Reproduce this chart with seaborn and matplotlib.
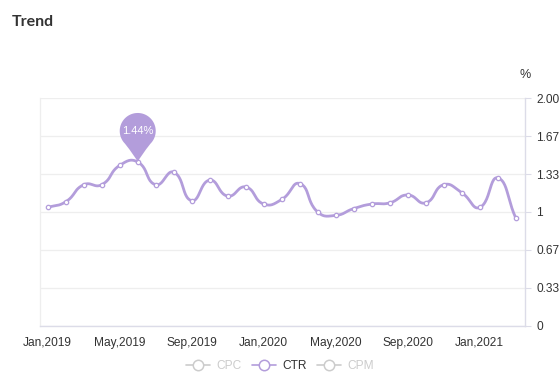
import numpy as np
import pandas as pd
import matplotlib
matplotlib.use("Agg")
import matplotlib.pyplot as plt
import matplotlib.transforms as mtransforms
from matplotlib.path import Path
from matplotlib.patches import PathPatch
from matplotlib.lines import Line2D
import seaborn as sns

# ---- data ----
months = pd.date_range("2019-01-01", periods=27, freq="MS")
ctr = [1.04, 1.09, 1.24, 1.24, 1.41, 1.44, 1.24, 1.35, 1.10, 1.28, 1.14, 1.22,
       1.07, 1.11, 1.25, 1.00, 0.97, 1.03, 1.07, 1.08, 1.15, 1.08, 1.24, 1.17,
       1.04, 1.30, 0.95]
tick_labels = ["Jan,2019", "May,2019", "Sep,2019", "Jan,2020", "May,2020", "Sep,2020", "Jan,2021"]
y_ticks = [0, 0.333, 0.667, 1.0, 1.333, 1.667, 2.0]
y_tick_labels = ["0", "0.33", "0.67", "1", "1.33", "1.67", "2.00"]
legend_names = ["CPC", "CTR", "CPM"]
peak_label = "1.44%"

LINE = "#b39ddb"
GRID = "#eeeeee"
AXIS = "#dcdce8"
TEXT = "#333333"

sns.set_theme(style="white")
plt.rcParams["font.family"] = ["Liberation Sans", "DejaVu Sans"]

df = pd.DataFrame({"idx": np.arange(len(ctr)), "CTR": ctr})

# ECharts-like smoothing (bezier, smooth=0.5) computed in pixel space
PX, PY = 18.0, 113.7
pts = np.column_stack([df["idx"].values * PX, df["CTR"].values * PY])
n = len(pts)
cp_prev = np.zeros_like(pts)
cp_next = np.zeros_like(pts)
s = 0.5
for i in range(n):
    p = pts[i]
    pr = pts[i - 1] if i > 0 else p
    nx = pts[i + 1] if i < n - 1 else p
    v = nx - pr
    d0 = np.hypot(*(p - pr))
    d1 = np.hypot(*(p - nx))
    tot = d0 + d1
    r = d1 / tot if tot > 0 else 0.5
    cp_next[i] = p + v * s * r
    cp_prev[i] = p - v * s * (1 - r)
sx, sy = [], []
t = np.linspace(0, 1, 25)
for i in range(n - 1):
    P0, P1, P2, P3 = pts[i], cp_next[i], cp_prev[i + 1], pts[i + 1]
    b = ((1 - t) ** 3)[:, None] * P0 + (3 * (1 - t) ** 2 * t)[:, None] * P1 + \
        (3 * (1 - t) * t ** 2)[:, None] * P2 + (t ** 3)[:, None] * P3
    sx.extend(b[:, 0] / PX)
    sy.extend(b[:, 1] / PY)
smooth = pd.DataFrame({"x": sx, "y": sy})

fig = plt.figure(figsize=(5.6, 3.84), dpi=100)
ax = fig.add_axes([40 / 560, 1 - 325.7 / 384, 485 / 560, (325.7 - 98.3) / 384])

sns.lineplot(data=smooth, x="x", y="y", ax=ax, color=LINE, linewidth=2, sort=False, zorder=3)
sns.scatterplot(data=df, x="idx", y="CTR", ax=ax, s=10, color="white",
                edgecolor=LINE, linewidth=0.9, zorder=4)

ax.set_xlim(-0.43, 26.52)
ax.set_ylim(0, 2.0)
ax.set_xlabel("")
ax.set_ylabel("")

# x ticks every 4 months
xt = np.arange(0, len(ctr), 4)
ax.set_xticks(xt)
ax.set_xticklabels(tick_labels[:len(xt)], fontsize=8.6, color=TEXT)
ax.yaxis.tick_right()
ax.set_yticks(y_ticks)
ax.set_yticklabels(y_tick_labels, fontsize=8.6, color=TEXT)
ax.tick_params(axis="x", length=4, width=0.8, color=AXIS, pad=4)
ax.tick_params(axis="y", length=4, width=0.8, color=AXIS, pad=4)
ax.grid(axis="y", color=GRID, linewidth=0.9)
ax.grid(axis="x", visible=False)
ax.spines["top"].set_visible(False)
ax.spines["left"].set_color(GRID)
ax.spines["left"].set_linewidth(0.9)
ax.spines["right"].set_color(AXIS)
ax.spines["right"].set_linewidth(1)
ax.spines["bottom"].set_color(AXIS)
ax.spines["bottom"].set_linewidth(1)

# pin marker at the peak
pk = int(np.argmax(ctr))
R = 18.0
cy = 31.0
ang = np.linspace(np.deg2rad(-45), np.deg2rad(225), 60)
right = (R * np.cos(np.deg2rad(-45)), cy + R * np.sin(np.deg2rad(-45)))
verts = [(0, 0)]
codes = [Path.MOVETO]
verts += [(3, 6), right]; codes += [Path.CURVE3, Path.CURVE3]
for a in ang[1:]:
    verts.append((R * np.cos(a), cy + R * np.sin(a))); codes.append(Path.LINETO)
verts += [(-3, 6), (0, 0)]; codes += [Path.CURVE3, Path.CURVE3]
verts.append((0, 0)); codes.append(Path.CLOSEPOLY)
pin = Path(verts, codes)
trans = mtransforms.Affine2D().scale(1 / 100) + fig.dpi_scale_trans + \
    mtransforms.ScaledTranslation(df["idx"][pk], df["CTR"][pk], ax.transData)
ax.add_patch(PathPatch(pin, transform=trans, facecolor=LINE, edgecolor="none",
                       zorder=6, clip_on=False))
ax.annotate(peak_label, xy=(df["idx"][pk], df["CTR"][pk]), xytext=(0, cy),
            textcoords="offset pixels", ha="center", va="center",
            fontsize=8, color="white", zorder=7)

# title and unit
fig.text(12 / 560, 1 - 22 / 384, "Trend", fontsize=11.5, fontweight="bold",
         color=TEXT, ha="left", va="center", family=["Lato", "DejaVu Sans"])
fig.text(525 / 560, 1 - 75 / 384, "%", fontsize=9, color=TEXT, ha="center", va="center")

# legend
handles = []
for name in legend_names:
    c = LINE if name == "CTR" else "#cccccc"
    handles.append(Line2D([], [], color=c, linewidth=1.2, marker="o", markersize=7.5,
                          markerfacecolor="white", markeredgecolor=c, markeredgewidth=1.1))
leg = fig.legend(handles, legend_names, loc="center", bbox_to_anchor=(0.5, 1 - 366 / 384),
                 ncol=3, frameon=False, fontsize=8.6, handlelength=2.0,
                 columnspacing=0.9, handletextpad=0.5)
for txt, name in zip(leg.get_texts(), legend_names):
    txt.set_color(TEXT if name == "CTR" else "#cccccc")

fig.savefig("out.png", dpi=100)
